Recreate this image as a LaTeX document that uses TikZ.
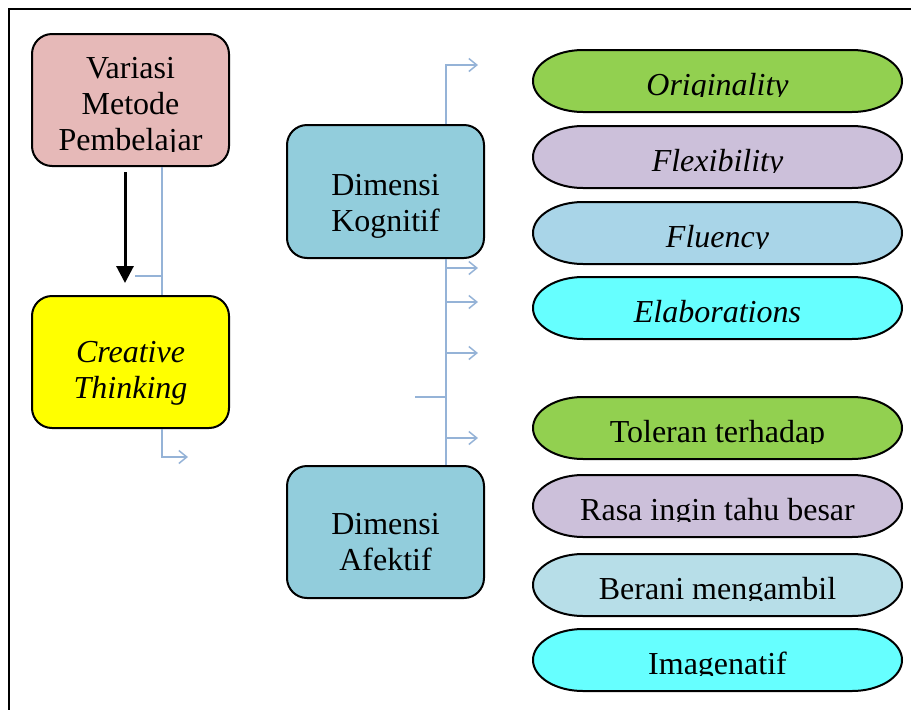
\documentclass[tikz,border=0pt]{standalone}
\usepackage{fontspec}
\setmainfont{Liberation Serif}
\usetikzlibrary{arrows.meta}
\definecolor{pinkbox}{HTML}{E6B9B8}
\definecolor{tealbox}{HTML}{92CDDC}
\definecolor{grn}{HTML}{92D050}
\definecolor{lil}{HTML}{CCC0DA}
\definecolor{bluA}{HTML}{A9D5E8}
\definecolor{bluB}{HTML}{B7DEE8}
\definecolor{cya}{HTML}{66FFFF}
\definecolor{connblue}{HTML}{95B3D7}
\definecolor{yel}{HTML}{FFFF00}

\newcommand\pill[5]{%
  \path[pillline, fill=#3] (583,#2) -- (852,#2)
    arc[start angle=-90,end angle=90,x radius=50,y radius=31] -- (583,#2+62)
    arc[start angle=90,end angle=270,x radius=50,y radius=31] -- cycle;
  \begin{scope}
    \clip (533,#2) rectangle (902,#2+46.5);
    \node[#4] (#1) at (717.5,#2+45) {#5};
  \end{scope}}

\begin{document}
\begin{tikzpicture}[x=1pt,y=-1pt,
  box/.style={draw=black, line width=2pt, rounded corners=20pt,
    minimum width=197pt, minimum height=132pt, inner sep=0pt},
  txt/.style={font=\fontsize{32}{36}\selectfont, align=center, inner sep=0pt, anchor=base},
  itxt/.style={font=\fontsize{32}{36}\selectfont\itshape, align=center, inner sep=0pt, anchor=base},
  pillline/.style={draw=black, line width=2pt},
  cl/.style={draw=connblue, line width=1.5pt},
  carrow/.style={cl, -{Straight Barb[length=8pt,width=13pt]}},
  blackarrow/.style={draw=black, line width=3pt, -{Triangle[length=17pt,width=17pt]}},
]
\useasboundingbox (0,0) rectangle (911,710);

% frame
\coordinate (fA) at (915,9);
\coordinate (fB) at (9,9);
\coordinate (fC) at (9,715);
\draw[line width=2.5pt] (fA) -- (fB) -- (fC);

% left boxes
\node[box, fill=pinkbox] (var) at (130.5,100) {};
\node[box, fill=yel] (cre) at (130.5,362) {};
\begin{scope}
  \clip (32,34) rectangle (229,151);
  \node[txt] (varT) at (130.5,150) {Variasi\\Metode\\Pembelajar};
\end{scope}
\node[itxt] (creT) at (130.5,398) {Creative\\Thinking};

% middle boxes
\node[box, fill=tealbox, minimum height=133pt] (kog) at (385.5,191.5) {};
\node[box, fill=tealbox] (afe) at (385.5,532) {};
\node[txt] (kogT) at (385.5,231) {Dimensi\\Kognitif};
\node[txt] (afeT) at (385.5,570) {Dimensi\\Afektif};

% pills
\pill{ori}{50}{grn}{itxt}{Originality}
\pill{fle}{126}{lil}{itxt}{Flexibility}
\pill{flu}{202}{bluA}{itxt}{Fluency}
\pill{ela}{277}{cya}{itxt}{Elaborations}
\pill{tol}{397}{grn}{txt}{Toleran terhadap}
\pill{ras}{475}{lil}{txt}{Rasa ingin tahu besar}
\pill{ber}{554}{bluB}{txt}{Berani mengambil}
\pill{ima}{629}{cya}{txt}{Imagenatif}

% black arrow
\coordinate (ka) at (125,172);
\coordinate (kb) at (125,283);
\draw[blackarrow] (ka) -- (kb);

% left connectors
\draw[cl] ([xshift=31.5pt]var.south) -- ([xshift=31.5pt]cre.north);
\coordinate (s1) at (135,276);
\coordinate (s1e) at (162,276);
\draw[cl] (s1) -- (s1e);
\coordinate (e1) at (188,457);
\draw[carrow] ([xshift=31.5pt]cre.south) |- (e1);

% middle connectors
\coordinate (m0) at (478,65);
\draw[carrow] ([xshift=60.5pt]kog.north) |- (m0);
\draw[cl] ([xshift=60.5pt]kog.south) -- ([xshift=60.5pt]afe.north);
\foreach \yy [count=\i] in {268,302,353,438} {
  \coordinate (bs\i) at (446,\yy);
  \coordinate (be\i) at (478,\yy);
  \draw[carrow] (bs\i) -- (be\i);
}
\coordinate (s2) at (415,397);
\coordinate (s2e) at (446,397);
\draw[cl] (s2) -- (s2e);
\end{tikzpicture}
\end{document}
